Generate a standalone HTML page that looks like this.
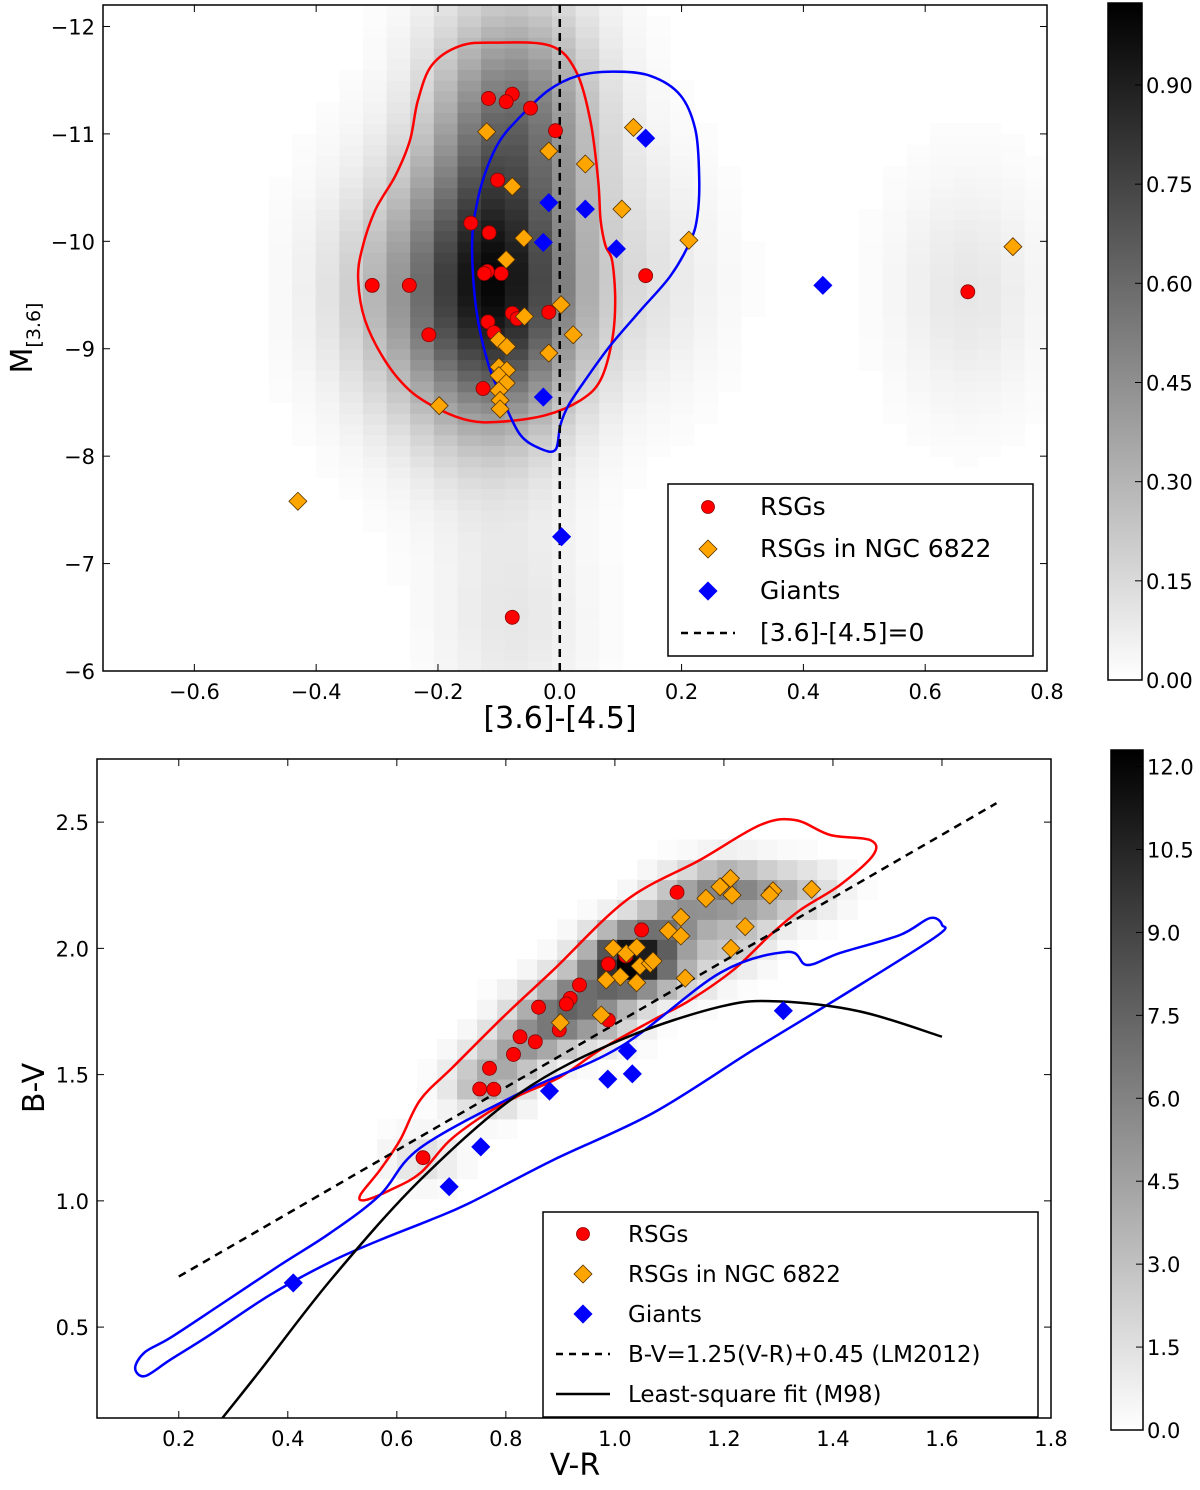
<!DOCTYPE html>
<html><head><meta charset="utf-8"><style>
body{margin:0;background:#fff;font-family:"Liberation Sans","DejaVu Sans",sans-serif}
svg text{font-family:"DejaVu Sans","Liberation Sans",sans-serif}
</style></head><body>
<svg id="c" width="1200" height="1485" xmlns="http://www.w3.org/2000/svg"></svg>
<script>
// ---- TOP PANEL DATA ----
const topRsgX=[-0.117,-0.078,-0.088,-0.048,-0.007,-0.102,-0.146,-0.116,-0.119,-0.124,-0.096,-0.308,-0.247,-0.078,-0.07,-0.018,-0.118,-0.108,-0.215,-0.126,0.141,0.67,-0.078];
const topRsgY=[-11.33,-11.37,-11.30,-11.24,-11.03,-10.57,-10.17,-10.08,-9.72,-9.70,-9.70,-9.59,-9.59,-9.33,-9.28,-9.34,-9.25,-9.15,-9.13,-8.63,-9.68,-9.53,-6.50];
const topNgcX=[-0.12,-0.018,0.042,0.121,-0.078,0.102,0.212,-0.059,-0.088,0.002,-0.058,0.022,-0.10,-0.087,-0.018,-0.10,-0.087,-0.10,-0.088,-0.10,-0.098,-0.098,-0.198,-0.43,0.744];
const topNgcY=[-11.02,-10.84,-10.72,-11.06,-10.51,-10.30,-10.01,-10.03,-9.83,-9.41,-9.30,-9.13,-9.08,-9.02,-8.96,-8.83,-8.80,-8.75,-8.68,-8.61,-8.52,-8.44,-8.47,-7.58,-9.95];
const topGiantX=[0.141,-0.018,0.042,-0.027,0.093,-0.027,0.432,0.003];
const topGiantY=[-10.96,-10.36,-10.30,-9.99,-9.93,-8.55,-9.59,-7.25];
const topRedContX=[-0.103,-0.015,0.026,0.05,0.063,0.067,0.075,0.086,0.091,0.086,0.067,0.034,-0.024,-0.098,-0.147,-0.196,-0.246,-0.287,-0.32,-0.331,-0.325,-0.303,-0.27,-0.246,-0.233,-0.21,-0.163];
const topRedContY=[-11.85,-11.82,-11.59,-11.13,-10.57,-10.20,-9.96,-9.82,-9.45,-9.08,-8.71,-8.52,-8.38,-8.32,-8.33,-8.43,-8.61,-8.89,-9.27,-9.64,-9.92,-10.29,-10.61,-10.94,-11.31,-11.64,-11.82];
const topBlueContX=[-0.007,-0.032,-0.065,-0.093,-0.117,-0.137,-0.144,-0.135,-0.119,-0.098,-0.07,-0.02,0.029,0.088,0.149,0.198,0.223,0.229,0.226,0.215,0.182,0.133,0.083,0.042,0.014,0.001];
const topBlueContY=[-8.06,-8.07,-8.20,-8.52,-8.85,-9.36,-9.98,-10.38,-10.69,-10.94,-11.13,-11.40,-11.54,-11.58,-11.54,-11.36,-11.03,-10.57,-10.24,-10.01,-9.68,-9.36,-9.03,-8.71,-8.47,-8.29];
const topXTicks=[-0.6,-0.4,-0.2,0.0,0.2,0.4,0.6,0.8];
const topXTickLabels=["\u22120.6","\u22120.4","\u22120.2","0.0","0.2","0.4","0.6","0.8"];
const topYTicks=[-12,-11,-10,-9,-8,-7,-6];
const topYTickLabels=["\u221212","\u221211","\u221210","\u22129","\u22128","\u22127","\u22126"];
const topCbTicks=[0,0.15,0.30,0.45,0.60,0.75,0.90];
const topCbLabels=["0.00","0.15","0.30","0.45","0.60","0.75","0.90"];
// ---- BOTTOM PANEL DATA ----
const botRsgX=[1.114,1.049,0.988,0.935,0.918,0.911,0.86,0.826,0.854,0.814,0.77,0.752,0.778,0.898,0.988,0.648,1.02];
const botRsgY=[2.222,2.073,1.938,1.855,1.802,1.780,1.767,1.65,1.63,1.58,1.525,1.443,1.442,1.677,1.716,1.171,1.97];
const botNgcX=[1.212,1.193,1.215,1.167,1.29,1.284,1.361,1.121,1.098,1.121,1.239,1.213,0.997,1.021,1.04,1.046,1.065,1.07,1.01,0.984,1.04,1.129,0.9,0.975];
const botNgcY=[2.277,2.244,2.211,2.198,2.228,2.211,2.234,2.123,2.07,2.049,2.086,2.0,2.0,1.98,2.004,1.93,1.94,1.95,1.888,1.875,1.864,1.882,1.706,1.736];
const botGiantX=[1.309,1.023,1.032,0.987,0.88,0.754,0.696,0.41];
const botGiantY=[1.753,1.594,1.503,1.482,1.435,1.214,1.056,0.675];
const botFitX=[0.28,0.35,0.48,0.643,0.826,1.01,1.193,1.30,1.45,1.6];
const botFitY=[0.14,0.33,0.69,1.083,1.427,1.637,1.769,1.79,1.75,1.65];
const botDashX=[0.2,1.7];
const botRedContX=[0.533,0.569,0.606,0.643,0.703,0.795,0.887,1.022,1.156,1.267,1.331,1.395,1.468,1.474,1.413,1.34,1.285,1.217,1.138,1.07,0.973,0.9,0.826,0.766,0.698,0.643,0.588,0.542];
const botRedContY=[1.023,1.122,1.241,1.40,1.53,1.728,1.914,2.192,2.35,2.489,2.508,2.449,2.429,2.37,2.251,2.152,2.053,1.914,1.795,1.716,1.598,1.491,1.419,1.348,1.241,1.11,1.043,1.003];
const botBlueContX=[0.12,0.138,0.184,0.276,0.386,0.478,0.569,0.643,0.826,1.01,1.193,1.316,1.353,1.413,1.523,1.578,1.6,1.588,1.413,1.254,1.07,0.887,0.734,0.661,0.569,0.478,0.367,0.257,0.184,0.138];
const botBlueContY=[0.338,0.401,0.457,0.588,0.746,0.873,1.023,1.21,1.427,1.61,1.903,1.986,1.934,1.982,2.053,2.12,2.093,2.045,1.807,1.598,1.348,1.162,0.992,0.924,0.845,0.758,0.627,0.469,0.37,0.306];
const botXTicks=[0.2,0.4,0.6,0.8,1.0,1.2,1.4,1.6,1.8];
const botXTickLabels=["0.2","0.4","0.6","0.8","1.0","1.2","1.4","1.6","1.8"];
const botYTicks=[0.5,1.0,1.5,2.0,2.5];
const botYTickLabels=["0.5","1.0","1.5","2.0","2.5"];
const botCbTicks=[0,1.5,3,4.5,6,7.5,9,10.5,12];
const botCbLabels=["0.0","1.5","3.0","4.5","6.0","7.5","9.0","10.5","12.0"];

const NS="http://www.w3.org/2000/svg";
const svg=document.getElementById('c');
function mk(tag,attrs,parent){const e=document.createElementNS(NS,tag);for(const k in attrs)e.setAttribute(k,attrs[k]);(parent||svg).appendChild(e);return e;}
function lin(d0,d1,r0,r1){return v=>r0+(v-d0)*(r1-r0)/(d1-d0);}
function smoothClosed(P){const n=P.length;let d=`M${P[0][0]},${P[0][1]}`;
  for(let i=0;i<n;i++){const p0=P[(i-1+n)%n],p1=P[i],p2=P[(i+1)%n],p3=P[(i+2)%n];
    const c1=[p1[0]+(p2[0]-p0[0])/6,p1[1]+(p2[1]-p0[1])/6],c2=[p2[0]-(p3[0]-p1[0])/6,p2[1]-(p3[1]-p1[1])/6];
    d+=` C${c1[0]},${c1[1]} ${c2[0]},${c2[1]} ${p2[0]},${p2[1]}`;}
  return d+'Z';}
function smoothOpen(P){const n=P.length;let d=`M${P[0][0]},${P[0][1]}`;
  for(let i=0;i<n-1;i++){const p0=P[Math.max(0,i-1)],p1=P[i],p2=P[i+1],p3=P[Math.min(n-1,i+2)];
    const c1=[p1[0]+(p2[0]-p0[0])/6,p1[1]+(p2[1]-p0[1])/6],c2=[p2[0]-(p3[0]-p1[0])/6,p2[1]-(p3[1]-p1[1])/6];
    d+=` C${c1[0]},${c1[1]} ${c2[0]},${c2[1]} ${p2[0]},${p2[1]}`;}
  return d;}

function panel(o){
  const g=mk('g',{});
  
  
  const sx=lin(o.xd[0],o.xd[1],o.L,o.R), sy=lin(o.yd[0],o.yd[1],o.B,o.T);
  const clipId=o.name+'-clip';
  const cp=mk('clipPath',{id:clipId},g);mk('rect',{x:o.L,y:o.T,width:o.R-o.L,height:o.B-o.T},cp);
  const hm=mk('g',{'clip-path':'url(#'+clipId+')'},g);
  
  
  const nx=Math.round((o.xd[1]-o.xd[0])/o.cx), ny=Math.round((o.yd[1]-o.yd[0])/o.cy);
  const vals=[];let mx=0;
  for(let i=0;i<nx;i++)for(let j=0;j<ny;j++){
    const x=o.xd[0]+(i+0.5)*o.cx,y=o.yd[0]+(j+0.5)*o.cy;let s=0;
    for(let k=0;k<o.kx.length;k++){const dx=(x-o.kx[k])/o.bw[0],dy=(y-o.ky[k])/o.bw[1];s+=Math.exp(-0.5*(dx*dx+dy*dy));}
    vals.push([i,j,s]);if(s>mx)mx=s;}
  vals.forEach(([i,j,s])=>{const v=s/mx*o.vmax;const t=Math.min(1,v/o.cbmax);if(t<0.01)return;
    const c=Math.round(255*(1-t));
    const x0=sx(o.xd[0]+i*o.cx),x1=sx(o.xd[0]+(i+1)*o.cx),y0=sy(o.yd[0]+j*o.cy),y1=sy(o.yd[0]+(j+1)*o.cy);
    const r=mk('rect',{x:Math.min(x0,x1),y:Math.min(y0,y1),width:Math.abs(x1-x0)+0.6,height:Math.abs(y1-y0)+0.6,fill:`rgb(${c},${c},${c})`},hm);
    
    });
  const plot=mk('g',{'clip-path':'url(#'+clipId+')'},g);
  o.conts.forEach(([X,Y,col,nm])=>{const p=mk('path',{d:smoothClosed(X.map((v,i)=>[sx(v),sy(Y[i])])),fill:'none',stroke:col,'stroke-width':2.5,'stroke-linejoin':'round'},plot);
    
    });
  o.lines.forEach(([X,Y,dash,nm])=>{const p=mk('path',{d:smoothOpen(X.map((v,i)=>[sx(v),sy(Y[i])])),fill:'none',stroke:'#000','stroke-width':2.5,'stroke-dasharray':dash},plot);
    
    });
  const circ=(X,Y,nm)=>X.forEach((v,i)=>{const c=mk('circle',{cx:sx(v),cy:sy(Y[i]),r:7,fill:'#f00',stroke:'#800','stroke-width':0.8},plot);
    
    });
  const dia=(X,Y,fill,nm)=>X.forEach((v,i)=>{const x=sx(v),y=sy(Y[i]);const d=mk('polygon',{points:`${x},${y-9} ${x+9},${y} ${x},${y+9} ${x-9},${y}`,fill:fill,stroke:fill=='#00f'?'#00f':'#553300','stroke-width':0.8},plot);
    
    });
  circ(o.rsg[0],o.rsg[1],'rsg-point');dia(o.ngc[0],o.ngc[1],'#ffa500','ngc6822-point');dia(o.gi[0],o.gi[1],'#00f','giant-point');
  mk('rect',{x:o.L,y:o.T,width:o.R-o.L,height:o.B-o.T,fill:'none',stroke:'#000','stroke-width':1.5},g);
  o.xt.forEach((v,i)=>{const x=sx(v);mk('line',{x1:x,x2:x,y1:o.B,y2:o.B-7,stroke:'#000'},g);mk('line',{x1:x,x2:x,y1:o.T,y2:o.T+7,stroke:'#000'},g);
    const t=mk('text',{x:x,y:o.B+28,'font-size':21,'text-anchor':'middle'},g);t.textContent=o.xtl[i];
    
    });
  o.yt.forEach((v,i)=>{const y=sy(v);mk('line',{x1:o.L,x2:o.L+7,y1:y,y2:y,stroke:'#000'},g);mk('line',{x1:o.R,x2:o.R-7,y1:y,y2:y,stroke:'#000'},g);
    const t=mk('text',{x:o.L-8,y:y+8,'font-size':21,'text-anchor':'end'},g);t.textContent=o.ytl[i];
    
    });
  const cb=mk('g',{},g);
  
  
  const gid=o.name+'-grad';const lg=mk('linearGradient',{id:gid,x1:0,y1:1,x2:0,y2:0},cb);
  mk('stop',{offset:0,'stop-color':'#fff'},lg);mk('stop',{offset:1,'stop-color':'#000'},lg);
  const cs=lin(0,o.cbmax,o.cbB,o.cbT);
  mk('rect',{x:o.cbL,y:o.cbT,width:o.cbW,height:o.cbB-o.cbT,fill:`url(#${gid})`,stroke:'#000','stroke-width':1.5},cb);
  o.cbt.forEach((v,i)=>{const y=cs(v);mk('line',{x1:o.cbL+o.cbW-7,x2:o.cbL+o.cbW,y1:y,y2:y,stroke:'#000'},cb);
    const t=mk('text',{x:o.cbL+o.cbW+4,y:y+8,'font-size':21},cb);t.textContent=o.cbl[i];
    
    });
  return g;
}
function legend(x,y,w,h,items,fs,rowH,textX,name){
  const g=mk('g',{});
  
  
  mk('rect',{x:x,y:y,width:w,height:h,fill:'#fff',stroke:'#000','stroke-width':1.5},g);
  items.forEach((it,i)=>{const cy=y+rowH*(i+0.5)+2;const mx=x+40;
    const e=mk('g',{},g);
    
    
    if(it[0]=='c')mk('circle',{cx:mx,cy:cy,r:6.5,fill:'#f00',stroke:'#800','stroke-width':0.8},e);
    else if(it[0]=='d'){mk('polygon',{points:`${mx},${cy-9} ${mx+9},${cy} ${mx},${cy+9} ${mx-9},${cy}`,fill:it[2],stroke:it[2]=='#00f'?'#00f':'#553300','stroke-width':0.8},e);}
    else mk('line',{x1:mx-27,x2:mx+27,y1:cy,y2:cy,stroke:'#000','stroke-width':2.5,'stroke-dasharray':it[0]=='dash'?'7,6':'none'},e);
    const t=mk('text',{x:x+textX,y:cy+8,'font-size':fs},e);t.textContent=it[1];});
}
panel({name:'top-panel',L:103,R:1047,T:5,B:671,xd:[-0.75,0.8],yd:[-6,-12.2],
  cx:0.0388,cy:-0.1,kx:topRsgX,ky:topRsgY,bw:[0.085,0.75],vmax:1.0,cbmax:1.024,
  conts:[[topRedContX,topRedContY,'#f00','rsg-contour'],[topBlueContX,topBlueContY,'#00f','giant-contour']],
  lines:[[[0,0],[-6,-12.2],'8,6','zero-color-line']],
  rsg:[topRsgX,topRsgY],ngc:[topNgcX,topNgcY],gi:[topGiantX,topGiantY],
  xt:topXTicks,xtl:topXTickLabels,yt:topYTicks,ytl:topYTickLabels,
  cbL:1108,cbW:34,cbT:3,cbB:680,cbt:topCbTicks,cbl:topCbLabels});
legend(668,484,365,172,[['c','RSGs'],['d','RSGs in NGC 6822','#ffa500'],['d','Giants','#00f'],['dash','[3.6]-[4.5]=0']],25,42,92,'top-legend');
const dashY=botDashX.map(v=>1.25*v+0.45);
panel({name:'bottom-panel',L:97,R:1051,T:759,B:1418,xd:[0.05,1.8],yd:[0.14,2.75],
  cx:0.0367,cy:0.079,kx:botRsgX.concat(botNgcX),ky:botRsgY.concat(botNgcY),bw:[0.045,0.07],vmax:12.2,cbmax:12.3,
  conts:[[botRedContX,botRedContY,'#f00','rsg-contour'],[botBlueContX,botBlueContY,'#00f','giant-contour']],
  lines:[[botDashX,dashY,'8,6','lm2012-line'],[botFitX,botFitY,'none','m98-fit-curve']],
  rsg:[botRsgX,botRsgY],ngc:[botNgcX,botNgcY],gi:[botGiantX,botGiantY],
  xt:botXTicks,xtl:botXTickLabels,yt:botYTicks,ytl:botYTickLabels,
  cbL:1111,cbW:32,cbT:750,cbB:1430,cbt:botCbTicks,cbl:botCbLabels});
legend(543,1212,495,205,[['c','RSGs'],['d','RSGs in NGC 6822','#ffa500'],['d','Giants','#00f'],['dash','B-V=1.25(V-R)+0.45 (LM2012)'],['line','Least-square fit (M98)']],23,40,85,'bottom-legend');
const a1=mk('text',{x:560,y:728,'font-size':30,'text-anchor':'middle'});a1.textContent='[3.6]-[4.5]';


const a2=mk('text',{x:0,y:0,'font-size':30,'text-anchor':'middle',transform:'translate(32,338) rotate(-90)'});
a2.innerHTML='M<tspan font-size="19" dy="8">[3.6]</tspan>';


const a3=mk('text',{x:575,y:1475,'font-size':30,'text-anchor':'middle'});a3.textContent='V-R';


const a4=mk('text',{x:0,y:0,'font-size':30,'text-anchor':'middle',transform:'translate(44,1088) rotate(-90)'});a4.textContent='B-V';


</script>
</body></html>
